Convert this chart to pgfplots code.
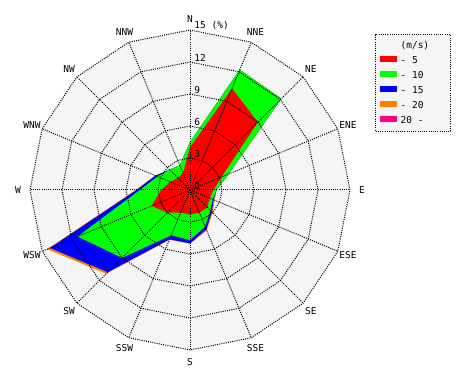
\documentclass[border=0pt]{standalone}
\usepackage{pgfplots}
\pgfplotsset{compat=1.18}
\usepackage{fontspec}
\setmainfont{DejaVu Sans Mono}
\definecolor{bg}{RGB}{245,245,245}
\definecolor{cred}{RGB}{255,0,0}
\definecolor{cgreen}{RGB}{0,255,0}
\definecolor{cblue}{RGB}{0,0,255}
\definecolor{corange}{RGB}{255,128,0}
\definecolor{cpink}{RGB}{255,0,128}
\tikzset{gridl/.style={black, line width=1pt, dash pattern=on 1pt off 1.2pt}}
\newcommand{\lab}{\fontsize{9.5}{11}\selectfont}
\begin{document}
\begin{tikzpicture}
\begin{axis}[
  x=10.6667pt, y=10.6667pt,
  xmin=-17.8125, xmax=26.25, ymin=-17.8125, ymax=17.8125,
  hide axis, clip=false,
  legend style={at={(0.80851,0.8921)}, anchor=north west, draw=none, fill=none,
    inner sep=0pt, row sep=5.7pt, column sep=4pt, font=\lab,
    nodes={inner sep=0pt, text height=7pt, text depth=2pt}},
  legend cell align=left,
  legend image code/.code={\fill[#1] (0pt,0pt) rectangle (16pt,4.7pt);},
]
\path (axis cs:-17.8125,-17.8125) rectangle (axis cs:26.25,17.8125);
% background
\addplot[fill=bg, draw=none, data cs=polar, forget plot] coordinates {
(90,15) (67.5,15) (45,15) (22.5,15) (0,15) (-22.5,15) (-45,15) (-67.5,15) (-90,15)
(-112.5,15) (-135,15) (-157.5,15) (-180,15) (-202.5,15) (-225,15) (-247.5,15) (-270,15)};
% 20- (pink) and -20 (orange)
\addplot[fill=corange, draw=none, data cs=polar, forget plot] coordinates {
(90,4.5) (67.5,12.2) (45,12.1) (22.5,3.9) (0,2.5) (-22.5,2.5) (-45,3.0) (-67.5,4.1) (-90,5.05)
(-112.5,5.05) (-135,11.1) (-157.5,14.5) (-180,5.1) (-202.5,3.55) (-225,2.7) (-247.5,2.5) (-270,4.5)};
% -15 (blue)
\addplot[fill=cblue, draw=none, data cs=polar, forget plot] coordinates {
(90,4.5) (67.5,12.2) (45,12.1) (22.5,3.9) (0,2.5) (-22.5,2.4) (-45,2.9) (-67.5,4.0) (-90,5.0)
(-112.5,5.0) (-135,10.9) (-157.5,14.2) (-180,5.0) (-202.5,3.5) (-225,2.7) (-247.5,2.5) (-270,4.5)};
% -10 (green)
\addplot[fill=cgreen, draw=none, data cs=polar, forget plot] coordinates {
(90,4.5) (67.5,12.2) (45,12.1) (22.5,3.9) (0,2.5) (-22.5,2.3) (-45,2.7) (-67.5,3.7) (-90,4.7)
(-112.5,4.6) (-135,9.0) (-157.5,11.4) (-180,4.7) (-202.5,3.3) (-225,2.7) (-247.5,2.5) (-270,4.5)};
% -5 (red)
\addplot[fill=cred, draw=none, data cs=polar, forget plot] coordinates {
(90,4.0) (67.5,10.3) (45,9.0) (22.5,3.2) (0,2.2) (-22.5,2.0) (-45,2.3) (-67.5,2.3) (-90,2.3)
(-112.5,2.3) (-135,3.0) (-157.5,3.9) (-180,2.7) (-202.5,2.0) (-225,1.6) (-247.5,1.7) (-270,4.0)};
% grid rings
\pgfplotsinvokeforeach{3,6,9,12,15}{
\addplot[gridl, data cs=polar, forget plot] coordinates {
(90,#1) (67.5,#1) (45,#1) (22.5,#1) (0,#1) (-22.5,#1) (-45,#1) (-67.5,#1) (-90,#1)
(-112.5,#1) (-135,#1) (-157.5,#1) (-180,#1) (-202.5,#1) (-225,#1) (-247.5,#1) (-270,#1)};
}
% spokes
\pgfplotsinvokeforeach{90,67.5,45,22.5,0,-22.5,-45,-67.5,-90,-112.5,-135,-157.5,-180,-202.5,-225,-247.5}{
\addplot[gridl, data cs=polar, forget plot] coordinates {(#1,0) (#1,15)};
}
% ring labels
\node[font=\lab, anchor=south west, inner sep=0pt] at (axis cs:0.4,0) {0};
\node[font=\lab, anchor=south west, inner sep=0pt] at (axis cs:0.4,3) {3};
\node[font=\lab, anchor=south west, inner sep=0pt] at (axis cs:0.4,6) {6};
\node[font=\lab, anchor=south west, inner sep=0pt] at (axis cs:0.4,9) {9};
\node[font=\lab, anchor=south west, inner sep=0pt] at (axis cs:0.4,12) {12};
\node[font=\lab, anchor=south west, inner sep=0pt] at (axis cs:0.4,15) {15 (\%)};
% direction labels
\node[font=\lab] at ([shift={(90:171pt)}]axis cs:0,0) {N};
\node[font=\lab] at ([shift={(67.5:171pt)}]axis cs:0,0) {NNE};
\node[font=\lab] at ([shift={(45:171pt)}]axis cs:0,0) {NE};
\node[font=\lab] at ([shift={(22.5:171pt)}]axis cs:0,0) {ENE};
\node[font=\lab] at ([shift={(0:172pt)}]axis cs:0,0) {E};
\node[font=\lab] at ([shift={(-22.5:171pt)}]axis cs:0,0) {ESE};
\node[font=\lab] at ([shift={(-45:171pt)}]axis cs:0,0) {SE};
\node[font=\lab] at ([shift={(-67.5:171pt)}]axis cs:0,0) {SSE};
\node[font=\lab] at ([shift={(-90:172pt)}]axis cs:0,0) {S};
\node[font=\lab] at ([shift={(-112.5:171pt)}]axis cs:0,0) {SSW};
\node[font=\lab] at ([shift={(-135:171pt)}]axis cs:0,0) {SW};
\node[font=\lab] at ([shift={(-157.5:171pt)}]axis cs:0,0) {WSW};
\node[font=\lab] at ([shift={(180:172pt)}]axis cs:0,0) {W};
\node[font=\lab] at ([shift={(157.5:171pt)}]axis cs:0,0) {WNW};
\node[font=\lab] at ([shift={(135:171pt)}]axis cs:0,0) {NW};
\node[font=\lab] at ([shift={(112.5:171pt)}]axis cs:0,0) {NNW};
% legend frame
\draw[gridl, fill=bg] (axis cs:17.344,14.531) rectangle (axis cs:24.44,5.531);
% legend entries
\addlegendimage{empty legend}
\addlegendentry{(m/s)}
\addlegendimage{cred}
\addlegendentry{- 5}
\addlegendimage{cgreen}
\addlegendentry{- 10}
\addlegendimage{cblue}
\addlegendentry{- 15}
\addlegendimage{corange}
\addlegendentry{- 20}
\addlegendimage{cpink}
\addlegendentry{20 -}
\end{axis}
\end{tikzpicture}
\end{document}
